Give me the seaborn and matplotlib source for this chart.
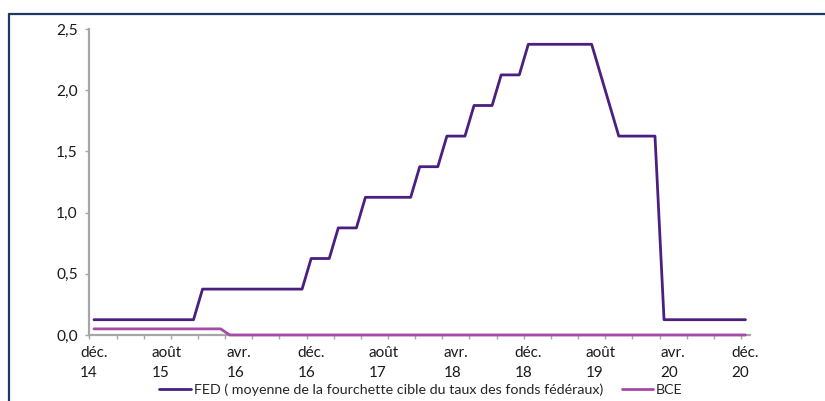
import matplotlib
matplotlib.use("Agg")
import matplotlib.pyplot as plt
from matplotlib.lines import Line2D
import seaborn as sns
import pandas as pd
import numpy as np

# Monthly policy rates, Dec 2014 -> Dec 2020 (73 months)
fed = ([0.125] * 12 + [0.375] * 12 + [0.625] * 3 + [0.875] * 3 + [1.125] * 6
       + [1.375] * 3 + [1.625] * 3 + [1.875] * 3 + [2.125] * 3 + [2.375] * 8
       + [2.125] + [1.875] + [1.625] * 5 + [0.125] * 10)
bce = [0.05] * 15 + [0.0] * 58

tick_pos = [0, 8, 16, 24, 32, 40, 48, 56, 64, 72]
tick_labels = ["déc.\n14", "août\n15", "avr.\n16", "déc.\n16", "août\n17",
               "avr.\n18", "déc.\n18", "août\n19", "avr.\n20", "déc.\n20"]
y_ticks = [0.0, 0.5, 1.0, 1.5, 2.0, 2.5]
y_labels = ["0,0", "0,5", "1,0", "1,5", "2,0", "2,5"]

fed_label = "FED ( moyenne de la fourchette cible du taux des fonds fédéraux)"
bce_label = "BCE"

months = np.arange(len(fed))
df = pd.DataFrame({
    "mois": np.concatenate([months, months]),
    "taux": fed + bce,
    "serie": [fed_label] * len(fed) + [bce_label] * len(bce),
})

sns.set_style("white")
plt.rcParams["font.family"] = ["Lato", "DejaVu Sans"]

fig = plt.figure(figsize=(8.25, 4.01), dpi=100)
ax = fig.add_axes([89 / 825, 1 - 335 / 401, (750 - 89) / 825, (335 - 29) / 401])

palette = {fed_label: "#4b1f80", bce_label: "#a54aa8"}
sns.lineplot(data=df, x="mois", y="taux", hue="serie", palette=palette,
             linewidth=2.0, ax=ax, legend=False)
for line in ax.get_lines():
    line.set_zorder(4)
    line.set_clip_on(False)

ax.set_xlim(-0.55, 72.5)
ax.set_ylim(0, 2.5)
ax.set_xlabel("")
ax.set_ylabel("")

for side in ["top", "right"]:
    ax.spines[side].set_visible(False)
for side in ["left", "bottom"]:
    ax.spines[side].set_color("#a6a6a6")
    ax.spines[side].set_linewidth(1.6)

ax.set_yticks(y_ticks)
ax.set_yticklabels(y_labels, fontsize=11.2, color="#1a1a1a")
ax.tick_params(axis="y", direction="out", length=3, width=1, color="#a6a6a6", pad=5, left=True)

ax.set_xticks(tick_pos)
ax.set_xticklabels(tick_labels, fontsize=11, color="#1a1a1a", linespacing=1.5,
                   multialignment="left")
ax.tick_params(axis="x", which="major", length=0, pad=8)
for lbl in ax.get_xticklabels():
    lbl.set_x(lbl.get_position()[0])
ax.set_xticks(np.arange(-0.5, 72.6, 3), minor=True)
ax.tick_params(axis="x", which="minor", direction="out", length=3, width=1,
               color="#a6a6a6", bottom=True)

handles = [Line2D([0], [0], color=palette[fed_label], lw=2.0),
           Line2D([0], [0], color=palette[bce_label], lw=2.0)]
fig.legend(handles, [fed_label, bce_label], loc="center", bbox_to_anchor=(421 / 825, 1 - 390 / 401),
           ncol=2, frameon=False, fontsize=10.3, handlelength=2.2, handletextpad=0.2,
           columnspacing=1.3, borderaxespad=0)

# Navy frame around the chart
frame_color = "#1f3a60"
x0 = 8.5 / 825
y0 = 1 - 13.5 / 401
fig.add_artist(Line2D([x0, x0], [0, y0], color=frame_color, lw=1.6, transform=fig.transFigure))
fig.add_artist(Line2D([x0, 1], [y0, y0], color=frame_color, lw=1.6, transform=fig.transFigure))

fig.savefig("out.png", dpi=100)
